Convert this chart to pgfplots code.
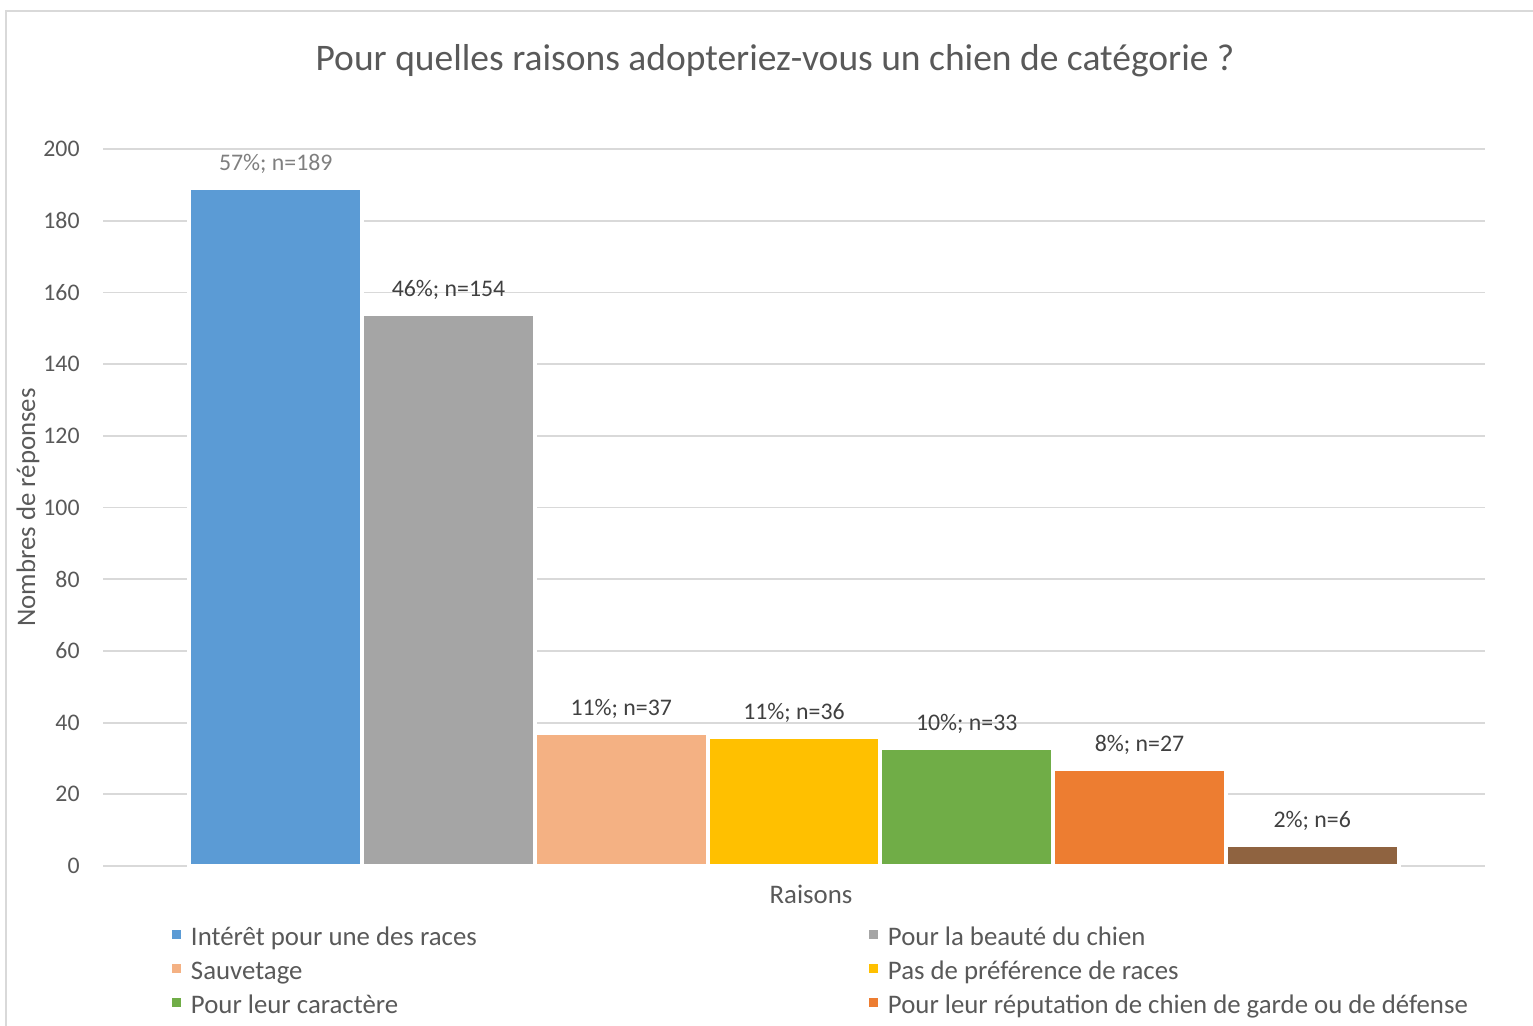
\documentclass[border=0pt]{standalone}
\usepackage{pgfplots}
\pgfplotsset{compat=1.18}
\usepackage{fontspec}
\setmainfont{Carlito}
\definecolor{cblue}{HTML}{5B9BD5}
\definecolor{cgrey}{HTML}{A5A5A5}
\definecolor{cpeach}{HTML}{F4B183}
\definecolor{cyellow}{HTML}{FFC000}
\definecolor{cgreen}{HTML}{70AD47}
\definecolor{corange}{HTML}{ED7D31}
\definecolor{cbrown}{HTML}{8F6340}
\definecolor{gridc}{HTML}{D9D9D9}
\definecolor{textc}{HTML}{595959}
\definecolor{labc}{HTML}{404040}
\definecolor{labone}{HTML}{7F7F7F}
\pgfplotsset{
  lsq/.style={legend image code/.code={\fill[##1,draw=none] (0pt,0pt) rectangle (4.5pt,4.5pt);}},
  barst/.style={ybar, bar shift=0pt, bar width=1, draw=white, line width=2pt, lsq},
}
\begin{document}
\begin{tikzpicture}[x=1pt,y=1pt]
\path[use as bounding box] (0,0) rectangle (766.5,-512.5);
\begin{scope}
\clip (0,0) rectangle (766.5,-512.5);
\draw[color=gridc, line width=0.9pt] (3,-700) -- (3,-5.5) -- (900,-5.5);
\end{scope}
\begin{axis}[
  at={(51.5pt,-433pt)}, anchor=south west,
  scale only axis, width=691pt, height=358.5pt,
  xmin=-1, xmax=7, ymin=0, ymax=200,
  ytick={0,20,...,200}, xtick=\empty,
  /pgf/number format/assume math mode=true,
  ymajorgrids, grid style={gridc, line width=0.9pt},
  axis line style={draw=none},
  major tick length=0pt,
  yticklabel style={font=\fontsize{11.9}{14}\selectfont, text=textc, anchor=east, inner sep=0pt, xshift=-11.5pt},
  title={Pour quelles raisons adopteriez-vous un chien de catégorie ?},
  title style={at={(axis description cs:0.4863,1.106)}, anchor=center, font=\fontsize{18.75}{22}\selectfont, text=textc, inner sep=0pt},
  xlabel={Raisons},
  xlabel style={at={(axis description cs:0.5123,-0.03905)}, anchor=center, font=\fontsize{13.4}{16}\selectfont, text=textc, inner sep=0pt},
  ylabel={Nombres de réponses},
  ylabel style={at={(axis description cs:-0.05427,0.5)}, anchor=center, font=\fontsize{13.4}{16}\selectfont, text=textc, inner sep=0pt},
  nodes near coords style={font=\fontsize{11.9}{14}\selectfont, text=labc, anchor=base, inner sep=0pt, yshift=8.75pt},
  legend columns=2,
  legend cell align=left,
  legend style={at={(axis description cs:0.04993,-0.0831)}, anchor=north west, draw=none, fill=none, inner sep=0pt, outer sep=0pt, column sep=0pt, row sep=4pt, font=\fontsize{13.4}{16}\selectfont, text=textc, nodes={inner sep=0pt, text height=10pt, text depth=3pt}},
]
\addplot[barst, fill=cblue, nodes near coords={57\%; n=189}, every node near coord/.append style={text=labone}] coordinates {(0,189)};
\addlegendentry{\hspace{5pt}\makebox[339pt][l]{Intérêt pour une des races}}
\addplot[barst, fill=cgrey, nodes near coords={46\%; n=154}] coordinates {(1,154)};
\addlegendentry{\hspace{5pt}Pour la beauté du chien}
\addplot[barst, fill=cpeach, nodes near coords={11\%; n=37}] coordinates {(2,37)};
\addlegendentry{\hspace{5pt}\makebox[339pt][l]{Sauvetage}}
\addplot[barst, fill=cyellow, nodes near coords={11\%; n=36}] coordinates {(3,36)};
\addlegendentry{\hspace{5pt}Pas de préférence de races}
\addplot[barst, fill=cgreen, nodes near coords={10\%; n=33}] coordinates {(4,33)};
\addlegendentry{\hspace{5pt}\makebox[339pt][l]{Pour leur caractère}}
\addplot[barst, fill=corange, nodes near coords={8\%; n=27}] coordinates {(5,27)};
\addlegendentry{\hspace{5pt}Pour leur réputation de chien de garde ou de défense}
\addplot[barst, fill=cbrown, forget plot, nodes near coords={2\%; n=6}] coordinates {(6,6)};
\end{axis}
\end{tikzpicture}
\end{document}
